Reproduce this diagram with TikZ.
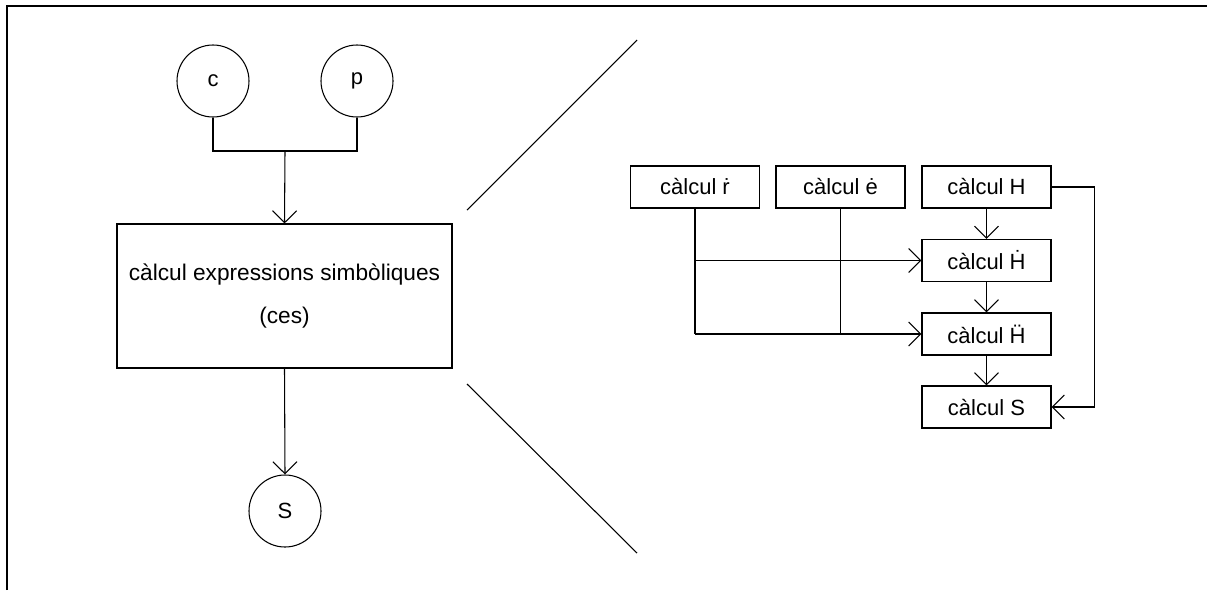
\documentclass[tikz,border=0pt]{standalone}
\usepackage{fontspec}
\setmainfont{Liberation Sans}
\usetikzlibrary{arrows.meta}

\tikzset{
  bloc/.style={draw, line width=0.8pt, minimum width=96.75pt, minimum height=31.5pt, inner sep=0pt},
  dada/.style={draw, circle, line width=0.8pt, minimum size=54pt, inner sep=0pt},
  fletxa/.style={-{Straight Barb[length=9pt,width=18pt]}},
}

\begin{document}
\begin{tikzpicture}[x=0.75pt, y=-0.75pt, line width=0.8pt,
  font=\fontsize{16.5pt}{19pt}\selectfont]
\useasboundingbox (0,0) rectangle (1207,590);
% marc
\draw[line width=1.6pt] (7,590) -- (7,6) -- (1207,6);

% esquerra: entrades, ces i sortida
\node[dada] (c) at (213,81) {c};
\node[dada] (p) at (357,81) {p};
\node[draw, line width=0.8pt, minimum width=251.25pt, minimum height=108pt, align=center,
  font=\fontsize{17pt}{32pt}\selectfont] (ces) at (284.5,296)
  {càlcul expressions simbòliques\\(ces)};
\node[dada] (s) at (285,511) {S};
\coordinate (unio) at (285,151);
\draw (c.south) |- (unio) -| (p.south);
\draw[fletxa] (unio) -- (ces.north);
\draw[fletxa] (ces.south) -- (s.north);

% lineas de l'ampliacio
\draw (467,210) -- (637,40);
\draw (467,384) -- (637,553);

% dreta: detall de ces
\node[bloc] (r)   at (695,187)   {càlcul \.{r}};
\node[bloc] (e)   at (840.5,187) {càlcul \.{e}};
\node[bloc] (h)   at (986.5,187) {càlcul H};
\node[bloc] (hd)  at (986.5,260.5) {càlcul \.{H}};
\node[bloc] (hdd) at (986.5,334) {càlcul \"{H}};
\node[bloc] (cs)  at (986.5,407) {càlcul S};

\draw (r.south) -- (r.south |- hdd.west);
\draw (e.south) -- (e.south |- hdd.west);
\draw[fletxa] (r.south |- hd.west) -- (hd.west);
\draw[fletxa] (r.south |- hdd.west) -- (hdd.west);
\draw[fletxa] (h) -- (hd);
\draw[fletxa] (hd) -- (hdd);
\draw[fletxa] (hdd) -- (cs);
\draw[fletxa] (h.east) -- ++(43,0) |- (cs.east);
\end{tikzpicture}
\end{document}
